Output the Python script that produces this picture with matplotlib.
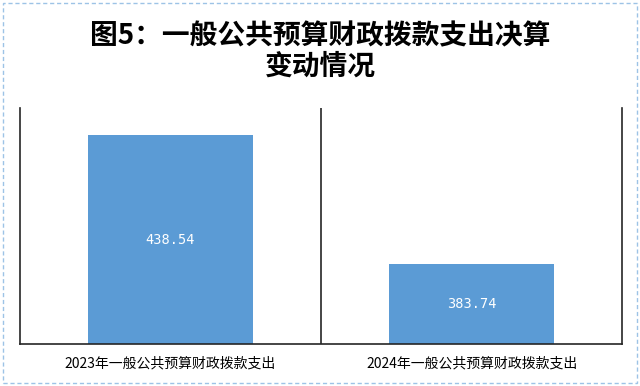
import matplotlib.pyplot as plt
from matplotlib.patches import Rectangle

plt.rcParams['font.family'] = ['Noto Sans CJK SC', 'DejaVu Sans']

categories = ['2023年一般公共预算财政拨款支出', '2024年一般公共预算财政拨款支出']
values = [438.54, 383.74]
title = '图5：一般公共预算财政拨款支出决算\n变动情况'

fig = plt.figure(figsize=(6.4, 3.86), dpi=100)
ax = fig.add_axes([0.03125, 0.109, 0.941, 0.611])

x = list(range(len(values)))
bars = ax.bar(x, values, width=0.55, color='#5b9bd5', zorder=2)
for b, v in zip(bars, values):
    ax.text(b.get_x() + b.get_width() / 2, (350 + v) / 2, f'{v:.2f}',
            ha='center', va='center', color='white', fontsize=9.8,
            family=['DejaVu Sans Mono'])

ax.set_xlim(-0.5, 1.5)
ax.set_ylim(350, 450)
ax.axvline(0.5, color='#262626', lw=1.2)
for s in ['left', 'right', 'bottom']:
    ax.spines[s].set_color('#262626')
    ax.spines[s].set_linewidth(1.2)
ax.spines['top'].set_visible(False)
ax.set_yticks([])
ax.set_xticks(x)
ax.set_xticklabels(categories, fontsize=10)
ax.tick_params(axis='x', length=0, pad=9)

fig.text(0.5, 0.866, title, ha='center', va='center', fontsize=20,
         fontweight='bold', linespacing=1.1)

fig.patches.append(Rectangle((0.005, 0.008), 0.99, 0.984, transform=fig.transFigure,
                             fill=False, ec='#9dc3e6', lw=1, ls=(0, (3, 2))))

fig.savefig('out.png', dpi=100)
